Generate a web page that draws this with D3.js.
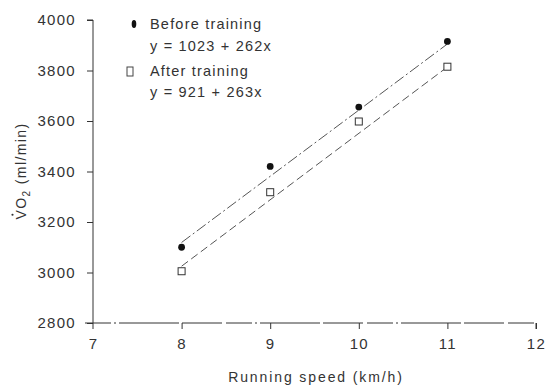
<!DOCTYPE html>
<html>
<head>
<meta charset="utf-8">
<script src="https://cdn.jsdelivr.net/npm/d3@7"></script>
<style>
  html, body { margin: 0; padding: 0; background: #fff; }
  svg { display: block; font-family: "Liberation Sans", Arial, Helvetica, sans-serif; }
</style>
</head>
<body>
<svg id="chart" width="546" height="387"></svg>
<script>
// Running speed (km/h) at which oxygen uptake was measured
const speeds = [8, 9, 10, 11];
// Measured VO2 (ml/min)
const beforeTraining = [3100, 3420, 3655, 3915];
const afterTraining = [3005, 3318, 3598, 3815];
// Fitted regression lines: y = intercept + slope * x
const beforeFit = { intercept: 1023, slope: 262 };
const afterFit = { intercept: 921, slope: 263 };
// Axis ticks
const xTicks = [7, 8, 9, 10, 11, 12];
const yTicks = [2800, 3000, 3200, 3400, 3600, 3800, 4000];

const svg = d3.select("#chart");
const ink = "#333";

const x = d3.scaleLinear().domain([7, 12]).range([93, 536]);
const y = d3.scaleLinear().domain([2800, 4000]).range([323, 20]);

// Y axis: ticks pointing left
const yAxis = svg.append("g")
  .attr("transform", `translate(${x(7)},0)`)
  .call(d3.axisLeft(y).tickValues(yTicks).tickSize(6).tickPadding(11).tickFormat(d3.format("d")));
yAxis.select(".domain").attr("d", `M-6,${y(4000)}H0V${y(2800) + 6}`);

// X axis: ticks pointing down, the baseline drawn as a broken rule
const xAxis = svg.append("g")
  .attr("transform", `translate(0,${y(2800)})`)
  .call(d3.axisBottom(x).tickValues(xTicks).tickSize(6).tickPadding(9).tickFormat(d3.format("d")));
xAxis.select(".domain").remove();
xAxis.selectAll(".tick").filter(d => d === 7).select("line").remove();
svg.append("line")
  .attr("x1", x(7) - 8).attr("x2", x(12))
  .attr("y1", y(2800)).attr("y2", y(2800))
  .attr("stroke", ink).attr("stroke-width", 1)
  .attr("stroke-dasharray", "26,3,2,3,60,3,40,4");
svg.append("line")
  .attr("x1", x(12)).attr("x2", x(12))
  .attr("y1", y(2800)).attr("y2", y(2800) + 6)
  .attr("stroke", ink);

[yAxis, xAxis].forEach(g => {
  g.selectAll("line, path").attr("stroke", ink).attr("stroke-width", 1);
  g.selectAll("text")
    .attr("fill", ink).attr("font-size", 15).attr("letter-spacing", 1.3)
    .attr("font-family", "Liberation Sans, Arial, sans-serif");
});

// Regression lines over the measured speed range
const xMin = d3.min(speeds), xMax = d3.max(speeds);
function fitLine(fit, dash) {
  svg.append("line")
    .attr("x1", x(xMin)).attr("y1", y(fit.intercept + fit.slope * xMin))
    .attr("x2", x(xMax)).attr("y2", y(fit.intercept + fit.slope * xMax))
    .attr("stroke", "#555").attr("stroke-width", 1)
    .attr("stroke-dasharray", dash);
}
fitLine(beforeFit, "11,3,2,3");
fitLine(afterFit, "8,4");

// Measured points
svg.append("g").selectAll("circle")
  .data(speeds.map((s, i) => [s, beforeTraining[i]]))
  .join("circle")
  .attr("cx", d => x(d[0])).attr("cy", d => y(d[1]))
  .attr("r", 3.4).attr("fill", "#111");

svg.append("g").selectAll("rect")
  .data(speeds.map((s, i) => [s, afterTraining[i]]))
  .join("rect")
  .attr("x", d => x(d[0]) - 3.5).attr("y", d => y(d[1]) - 3.5)
  .attr("width", 7).attr("height", 7)
  .attr("fill", "#fff").attr("stroke", "#333").attr("stroke-width", 1);

// Legend
const legend = svg.append("g").attr("fill", ink).attr("font-size", 14.5).attr("letter-spacing", 1.2);
legend.append("ellipse").attr("cx", 134).attr("cy", 24).attr("rx", 2.3).attr("ry", 4).attr("fill", "#111");
legend.append("text").attr("x", 150).attr("y", 29).text("Before training");
legend.append("text").attr("x", 150).attr("y", 51).text("y = 1023 + 262x");
legend.append("rect").attr("x", 127).attr("y", 67).attr("width", 6).attr("height", 9)
  .attr("fill", "#fff").attr("stroke", "#444").attr("stroke-width", 1);
legend.append("text").attr("x", 150).attr("y", 76).text("After training");
legend.append("text").attr("x", 150).attr("y", 97).text("y = 921 + 263x");

// Axis titles
svg.append("text")
  .attr("x", 316).attr("y", 382)
  .attr("text-anchor", "middle").attr("font-size", 14).attr("letter-spacing", 1.9).attr("fill", ink)
  .text("Running speed (km/h)");

const yTitleG = svg.append("g").attr("transform", "translate(26,171) rotate(-90)");
const yTitle = yTitleG.append("text")
  .attr("text-anchor", "middle").attr("font-size", 14).attr("letter-spacing", 1.4).attr("fill", ink);
yTitle.append("tspan").text("VO");
yTitle.append("tspan").attr("font-size", 10).attr("dy", 4).text("2");
yTitle.append("tspan").attr("dy", -4).text(" (ml/min)");
// Dot above the V (rate notation)
const vBox = yTitle.node().getExtentOfChar(0);
yTitleG.append("circle")
  .attr("cx", vBox.x + vBox.width / 2 - 0.6).attr("cy", vBox.y - 0.5)
  .attr("r", 1.1).attr("fill", ink);
</script>
</body>
</html>
